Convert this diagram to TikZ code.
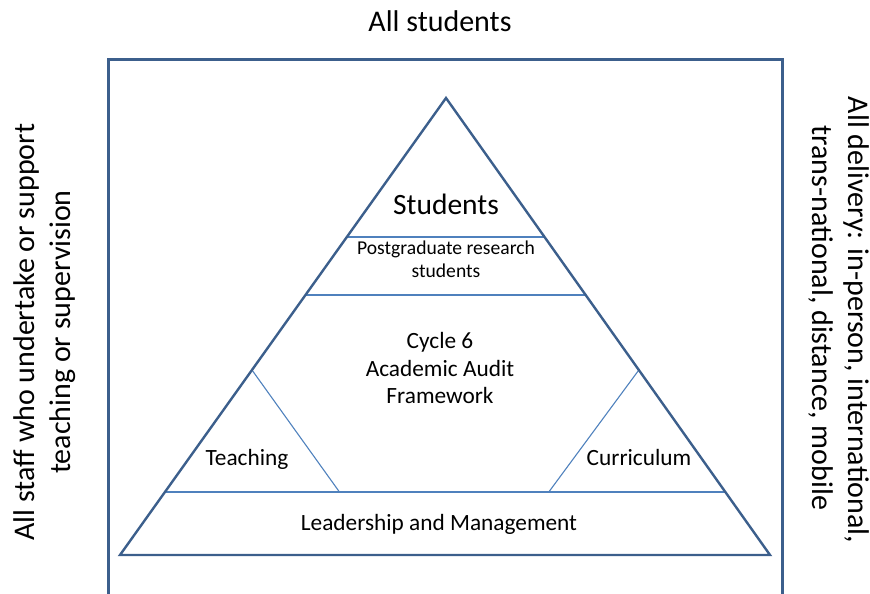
\documentclass[tikz,border=0pt]{standalone}
\usepackage{fontspec}
\setmainfont{Carlito}
\usetikzlibrary{calc}
\definecolor{frameblue}{RGB}{60,95,140}
\definecolor{lineblue}{RGB}{79,129,189}
\begin{document}
\begin{tikzpicture}[x=1pt,y=-1pt,
  bigtext/.style={font=\fontsize{30}{36}\selectfont, inner sep=0pt, anchor=base},
  midtext/.style={font=\fontsize{23.3}{28}\selectfont, inner sep=0pt, anchor=base},
  smalltext/.style={font=\fontsize{19.6}{22}\selectfont, inner sep=0pt, anchor=base},
  frame/.style={draw=frameblue, line width=3pt},
  tri/.style={draw=frameblue, line width=2.4pt, line join=miter},
  innerline/.style={draw=lineblue, line width=1.1pt}]
\useasboundingbox (0,0) rectangle (870,594);
\clip (0,0) rectangle (870,594);
% outer frame (open at the bottom edge of the picture)
\coordinate (fbl) at (108,600);
\coordinate (ftl) at (108,60);
\coordinate (ftr) at (782,60);
\coordinate (fbr) at (782,600);
\draw[frame] (fbl) -- (ftl) -- (ftr) -- (fbr);
% triangle
\coordinate (apex) at (446,98);
\coordinate (bl) at (120,555);
\coordinate (br) at (770,555);
\coordinate (s1l) at ($(apex)!0.3042!(bl)$);
\coordinate (s1r) at ($(apex)!0.3042!(br)$);
\coordinate (s2l) at ($(apex)!0.4311!(bl)$);
\coordinate (s2r) at ($(apex)!0.4311!(br)$);
\coordinate (s3l) at ($(apex)!0.8621!(bl)$);
\coordinate (s3r) at ($(apex)!0.8621!(br)$);
\coordinate (tl) at ($(apex)!0.5952!(bl)$);
\coordinate (tr) at ($(apex)!0.5952!(br)$);
\coordinate (tlb) at ($(s3l)!0.3114!(s3r)$);
\coordinate (trb) at ($(s3l)!0.685!(s3r)$);
\draw[innerline] (s1l) -- (s1r);
\draw[innerline] (s2l) -- (s2r);
\draw[innerline] (s3l) -- (s3r);
\draw[innerline] (tl) -- (tlb);
\draw[innerline] (tr) -- (trb);
\draw[tri] (apex) -- (bl) -- (br) -- cycle;
% texts
\node[bigtext] (allstud) at (440,32) {All students};
\node[bigtext, font=\fontsize{29.5}{36}\selectfont] (stud) at (446,214) {Students};
\node[smalltext] (pg1) at (446,254) {Postgraduate research};
\node[smalltext] (pg2) at (446,277) {students};
\node[midtext] (c1) at (440,348.5) {Cycle 6};
\node[midtext] (c2) at (440,376) {Academic Audit};
\node[midtext] (c3) at (440,403.5) {Framework};
\node[midtext] (teach) at (247,465) {Teaching};
\node[midtext] (curr) at (639,465) {Curriculum};
\node[midtext] (lead) at (439,530) {Leadership and Management};
\node[bigtext, rotate=90] (left1) at (34,332) {All staff who undertake or support};
\node[bigtext, rotate=90] (left2) at (70,332) {teaching or supervision};
\node[bigtext, rotate=-90] (right1) at (848,320) {All delivery: in-person, international,};
\node[bigtext, rotate=-90] (right2) at (812,318) {trans-national, distance, mobile};
\end{tikzpicture}
\end{document}
